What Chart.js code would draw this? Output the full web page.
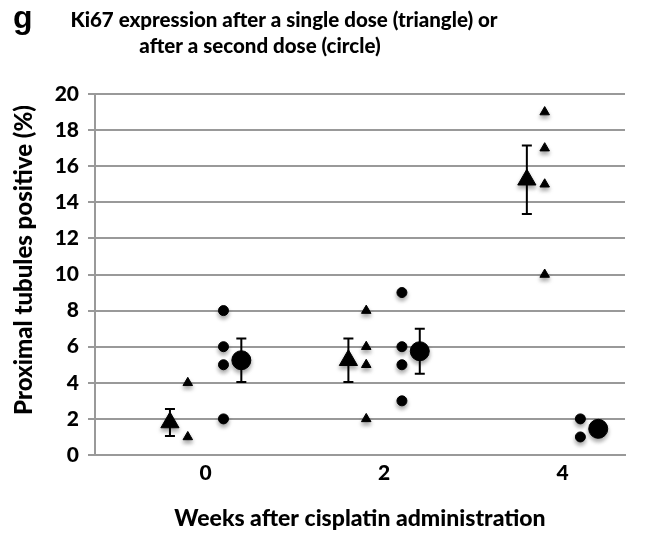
<!DOCTYPE html>
<html>
<head>
<meta charset="utf-8">
<script src="https://cdn.jsdelivr.net/npm/chart.js@4.4.1/dist/chart.umd.min.js"></script>
<style>
    html, body { margin: 0; padding: 0; background: #fff; }
    #wrap { width: 645px; height: 541px; position: relative; }
</style>
</head>
<body>
<div id="wrap"><canvas id="ki67Chart"></canvas></div>
<script>
// ========================================
// Ki67 expression chart data
// ========================================

const weeks = [0, 2, 4];
const weekTickLabels = ['0', '2', '4'];

// individual animals, one list per week
const singleDoseValues = [[4, 1], [8, 6, 5, 2], [19, 17, 15, 10]];
const secondDoseValues = [[8, 6, 5, 2], [9, 6, 5, 3], [2, 1]];

// group means and error bars
const singleDoseMean = [1.8, 5.25, 15.25];
const singleDoseError = [0.75, 1.2, 1.9];
const secondDoseMean = [5.25, 5.75, 1.45];
const secondDoseError = [1.2, 1.25, 0];

const FONT = 'Lato, "Open Sans", "DejaVu Sans", sans-serif';
const WEIGHT = '900';

// horizontal spread of each marker group around its week
const OFFSET_MEAN = 0.4;
const OFFSET_POINTS = 0.2;

function buildPoints(values, offset) {
    const pts = [];
    values.forEach((list, i) => {
        list.forEach(v => pts.push({ x: weeks[i] + offset, y: v }));
    });
    return pts;
}

function buildMeans(means, errors, offset) {
    return means.map((m, i) => ({ x: weeks[i] + offset, y: m, err: errors[i] }));
}

// error bars drawn below the markers
const errorBarPlugin = {
    id: 'errorBars',
    beforeDatasetsDraw(chart) {
        const { ctx, scales: { x, y } } = chart;
        ctx.save();
        ctx.strokeStyle = '#000';
        ctx.lineWidth = 2;
        chart.data.datasets.forEach(ds => {
            ds.data.forEach(p => {
                if (!p.err) return;
                const px = x.getPixelForValue(p.x);
                const top = y.getPixelForValue(p.y + p.err);
                const bot = y.getPixelForValue(p.y - p.err);
                ctx.beginPath();
                ctx.moveTo(px, top); ctx.lineTo(px, bot);
                ctx.moveTo(px - 5, top); ctx.lineTo(px + 5, top);
                ctx.moveTo(px - 5, bot); ctx.lineTo(px + 5, bot);
                ctx.stroke();
            });
        });
        ctx.restore();
    }
};

// soft drop shadow like the original figure
const shadowPlugin = {
    id: 'markerShadow',
    beforeDatasetDraw(chart) {
        const ctx = chart.ctx;
        ctx.shadowColor = 'rgba(0, 0, 0, 0.35)';
        ctx.shadowBlur = 4;
        ctx.shadowOffsetY = 3;
    },
    afterDatasetDraw(chart) {
        const ctx = chart.ctx;
        ctx.shadowColor = 'rgba(0, 0, 0, 0)';
        ctx.shadowBlur = 0;
        ctx.shadowOffsetY = 0;
    }
};

// panel letter, title and y title
const textPlugin = {
    id: 'panelText',
    afterDraw(chart) {
        const ctx = chart.ctx;
        ctx.save();
        ctx.fillStyle = '#000';
        ctx.textBaseline = 'alphabetic';

        ctx.font = `bold 32px "Liberation Sans", Arial, sans-serif`;
        ctx.textAlign = 'left';
        ctx.fillText('g', 13, 28);

        ctx.font = `${WEIGHT} 20.5px ${FONT}`;
        ctx.textAlign = 'center';
        ctx.fillText('Ki67 expression after a single dose (triangle) or', 284, 27);
        ctx.fillText('after a second dose (circle)', 260, 53);

        ctx.translate(24, 260);
        ctx.rotate(-Math.PI / 2);
        ctx.font = `${WEIGHT} 24px ${FONT}`;
        ctx.textBaseline = 'middle';
        ctx.fillText('Proximal tubules positive (%)', 0, 0);
        ctx.restore();
    }
};

const chartCtx = document.getElementById('ki67Chart');

new Chart(chartCtx, {
    type: 'scatter',
    data: {
        datasets: [
            {
                label: 'Single dose',
                data: buildPoints(singleDoseValues, -OFFSET_POINTS),
                pointStyle: 'triangle',
                pointRadius: 5.5,
                backgroundColor: '#000',
                borderColor: '#000',
                borderWidth: 1
            },
            {
                label: 'Second dose',
                data: buildPoints(secondDoseValues, OFFSET_POINTS),
                pointStyle: 'circle',
                pointRadius: 5,
                backgroundColor: '#000',
                borderColor: '#000',
                borderWidth: 1
            },
            {
                label: 'Single dose mean',
                data: buildMeans(singleDoseMean, singleDoseError, -OFFSET_MEAN),
                pointStyle: 'triangle',
                pointRadius: 10.5,
                backgroundColor: '#000',
                borderColor: '#000',
                borderWidth: 1
            },
            {
                label: 'Second dose mean',
                data: buildMeans(secondDoseMean, secondDoseError, OFFSET_MEAN),
                pointStyle: 'circle',
                pointRadius: 9.5,
                backgroundColor: '#000',
                borderColor: '#000',
                borderWidth: 1
            }
        ]
    },
    options: {
        responsive: true,
        maintainAspectRatio: false,
        animation: false,
        layout: { padding: { top: 94, right: 20, left: 0, bottom: 0 } },
        plugins: {
            legend: { display: false },
            tooltip: { enabled: false }
        },
        scales: {
            x: {
                type: 'linear',
                min: -1.24,
                max: 4.7,
                afterBuildTicks: scale => {
                    scale.ticks = weeks.map(v => ({ value: v }));
                },
                afterFit: scale => { scale.height = 86; },
                grid: { display: false, drawTicks: false },
                border: { display: true, color: '#999', width: 2 },
                ticks: {
                    color: '#000',
                    padding: 6,
                    font: { family: FONT, size: 21, weight: WEIGHT },
                    callback: (v) => weekTickLabels[weeks.indexOf(v)]
                },
                title: {
                    display: true,
                    text: 'Weeks after cisplatin administration',
                    color: '#000',
                    font: { family: FONT, size: 23, weight: WEIGHT },
                    padding: { bottom: 9 }
                }
            },
            y: {
                min: 0,
                max: 20,
                afterFit: scale => { scale.width = 95; },
                grid: { color: '#999', lineWidth: 2, tickLength: 7 },
                border: { display: true, color: '#999', width: 2 },
                ticks: {
                    stepSize: 2,
                    color: '#000',
                    padding: 9,
                    font: { family: FONT, size: 21, weight: WEIGHT }
                }
            }
        }
    },
    plugins: [errorBarPlugin, shadowPlugin, textPlugin]
});
</script>
</body>
</html>
